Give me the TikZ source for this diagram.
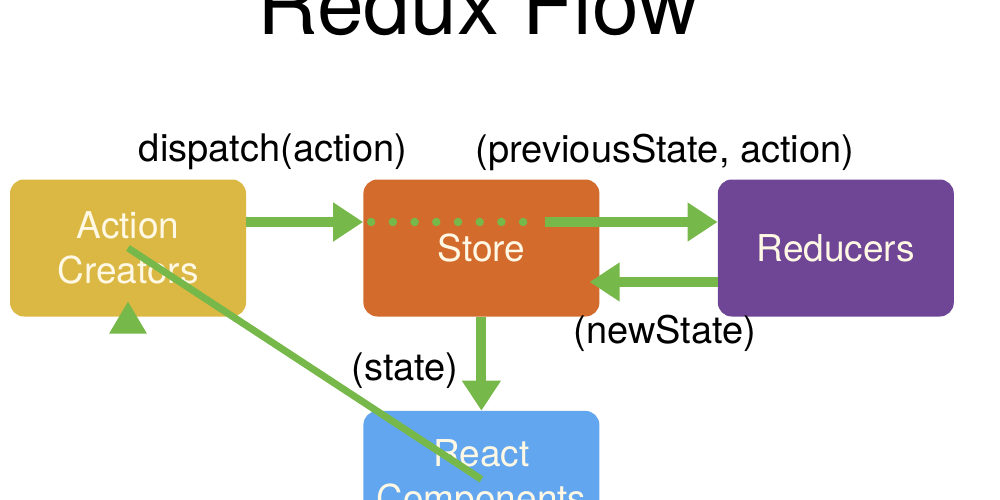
\documentclass[tikz,border=0pt]{standalone}
\usepackage{fontspec}
\setmainfont{TeX Gyre Heros}
\usepackage{tikz}
\usetikzlibrary{arrows.meta, positioning}
\definecolor{acgold}{HTML}{DBB843}
\definecolor{storeorange}{HTML}{D36B2C}
\definecolor{redpurple}{HTML}{6F4596}
\definecolor{reactblue}{HTML}{62A6EF}
\definecolor{flowgreen}{HTML}{77B84A}
\definecolor{boxtext}{HTML}{FFF8E4}

\begin{document}
\begin{tikzpicture}[x=1pt, y=-1pt,
  box/.style={rectangle, rounded corners=14pt, minimum width=236pt, minimum height=137pt, inner sep=0pt, align=center, text=boxtext, font=\fontsize{37}{45}\selectfont},
  flow/.style={draw=flowgreen, line width=10pt, -{Triangle[length=30pt, width=37pt]}},
  lbl/.style={font=\fontsize{38}{45}\selectfont}]
\useasboundingbox (0,0) rectangle (1000,500);
\clip (0,0) rectangle (1000,500);

\node(title)[anchor=base, font=\fontsize{84}{90}\selectfont] at (478,35) {Redux Flow};

\node(ac)[box, fill=acgold] at (128,248) {Action\\Creators};
\node(store)[box, fill=storeorange, right=117pt of ac] {Store};
\node(red)[box, fill=redpurple, right=118pt of store] {Reducers};
\node(react)[box, fill=reactblue, below=94pt of store] {React\\Components};

\node(dispatch)[lbl] at (273,152) {dispatch(action)};
\node(prev)[lbl] at (665,152) {(previousState, action)};
\node(newst)[lbl] at (665,333) {(newState)};
\node(st)[lbl] at (405,371) {(state)};

\draw[flow] ([yshift=26pt]ac.east) -- ([yshift=26pt]store.west);
\draw[draw=flowgreen, line width=8.5pt, line cap=round, dash pattern=on 0pt off 21.7pt] ([xshift=8pt,yshift=26pt]store.west) -- ([xshift=44pt,yshift=26pt]store.center);
\draw[flow] ([xshift=64pt,yshift=26pt]store.center) -- ([yshift=26pt]red.west);
\draw[flow] ([yshift=-34pt]red.west) -- ([xshift=-10pt,yshift=-34pt]store.east);
\draw[flow] (store.south) -- (react.north);
\draw[draw=flowgreen, line width=7pt] (ac.center) -- (react.center);
\fill[flowgreen] ([yshift=15pt]ac.south) -- ([xshift=-19pt,yshift=-17pt]ac.south) -- ([xshift=19pt,yshift=-17pt]ac.south) -- cycle;
\end{tikzpicture}
\end{document}
